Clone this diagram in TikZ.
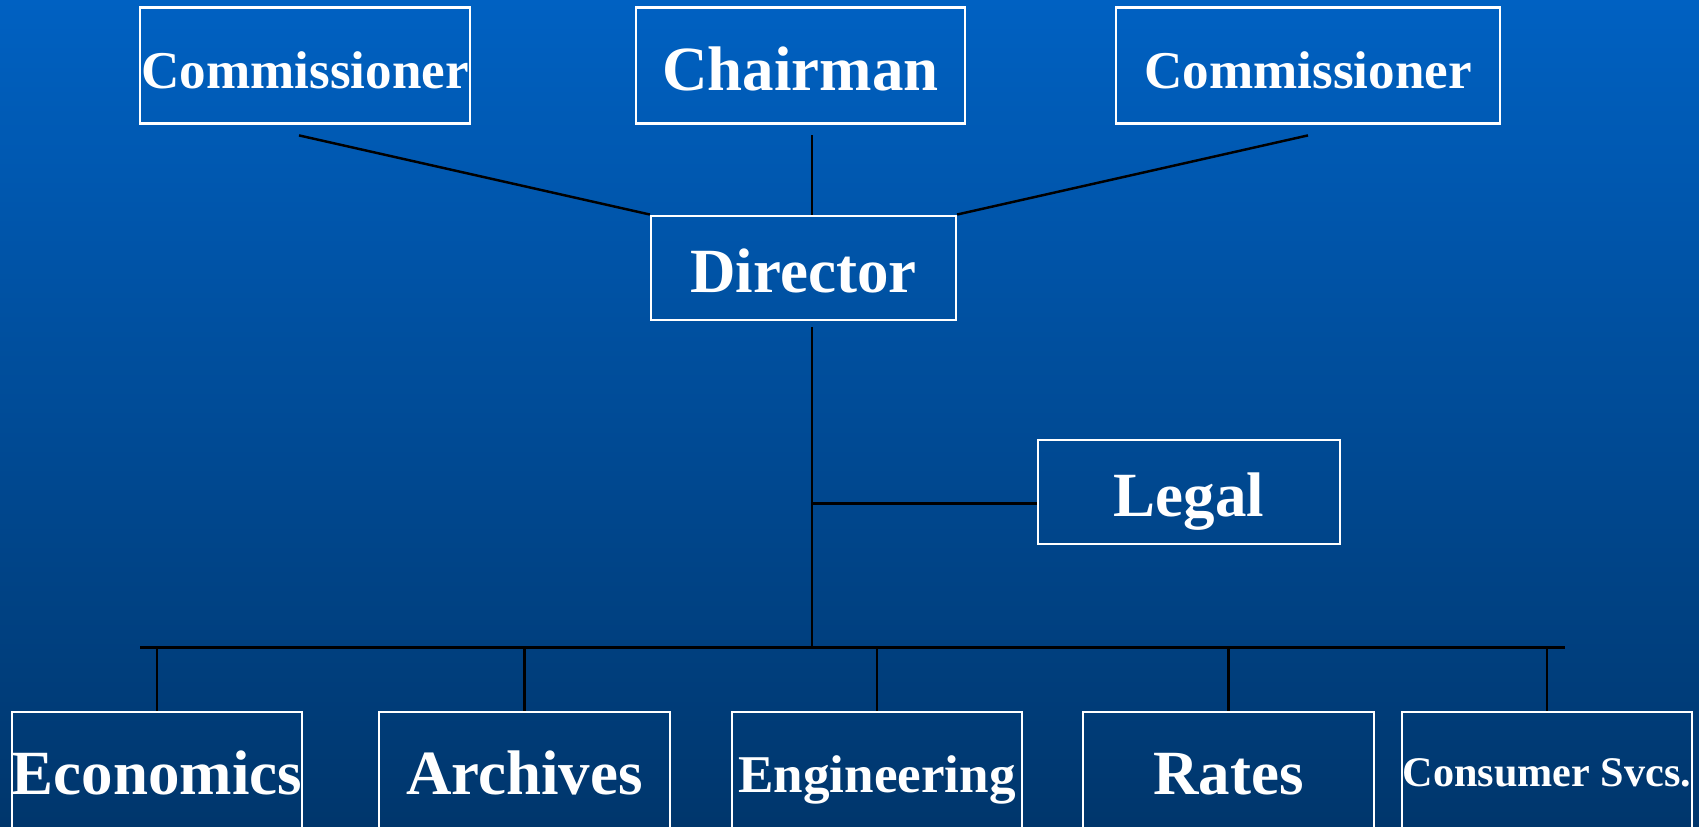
\documentclass[tikz,border=0pt]{standalone}
\usepackage{fontspec}
\setmainfont{Liberation Serif}
\definecolor{topblue}{RGB}{0,97,194}
\definecolor{bottomblue}{RGB}{0,54,108}
\tikzset{
	post/.style={draw=white, line width=0.6pt, inner sep=0pt, text=white},
	bigname/.style={font=\bfseries\fontsize{17.9pt}{20pt}\selectfont, text height=14pt, text depth=0pt},
	midname/.style={font=\bfseries\fontsize{15.1pt}{17pt}\selectfont, text height=12.8pt, text depth=0pt},
	smallname/.style={font=\bfseries\fontsize{12pt}{14pt}\selectfont, text height=9.5pt, text depth=0pt},
	dept/.style={minimum width=2.90cm, minimum height=1.16cm},
	link/.style={draw=black, line width=0.7pt}
}
\begin{document}
\begin{tikzpicture}[x=0.01cm,y=0.01cm]
	\shade [top color=topblue, bottom color=bottomblue] (0,0) rectangle (1699,826);
	\useasboundingbox (0,0) rectangle (1699,826);

	\node (comL) [post, midname, minimum width=3.30cm, minimum height=1.16cm] at (305,760.5) {Commissioner};
	\node (chair) [post, bigname, minimum width=3.29cm, minimum height=1.16cm] at (800.5,760.5) {Chairman};
	\node (comR) [post, midname, minimum width=3.84cm, minimum height=1.16cm] at (1308,760.5) {Commissioner};
	\node (dir) [post, bigname, minimum width=3.05cm, minimum height=1.04cm] at (803.5,558.4) {Director};
	\node (legal) [post, bigname, minimum width=3.02cm, minimum height=1.04cm] at (1189,334) {Legal};

	\node (econ) [post, dept, bigname] at (157,56) {Economics};
	\node (arch) [post, dept, bigname] at (524.5,56) {Archives};
	\node (eng) [post, dept, midname] at (877,56) {Engineering};
	\node (rates) [post, dept, bigname] at (1228.5,56) {Rates};
	\node (cons) [post, dept, smallname] at (1547,56) {Consumer Svcs.};

	\coordinate (comLtail) at (299,690.6);
	\coordinate (chairtail) at (812,690.6);
	\coordinate (comRtail) at (1308,690.6);
	\coordinate (dirtail) at (812,498.7);
	\coordinate (legaljoint) at (812,322.7);
	\coordinate (busL) at (140,178.3);
	\coordinate (busR) at (1564.5,178.3);

	\draw [link] (comLtail) -- (dir.north west);
	\draw [link] (chairtail) -- (chairtail |- dir.north);
	\draw [link] (comRtail) -- (dir.north east);
	\draw [link] (dirtail) -- (dirtail |- busL);
	\draw [link] (legaljoint) -- (legaljoint -| legal.west);
	\draw [link] (busL) -- (busR);
	\foreach \dep in {econ,arch,eng,rates,cons}
		\draw [link] (\dep.north |- busL) -- (\dep.north);
\end{tikzpicture}
\end{document}
